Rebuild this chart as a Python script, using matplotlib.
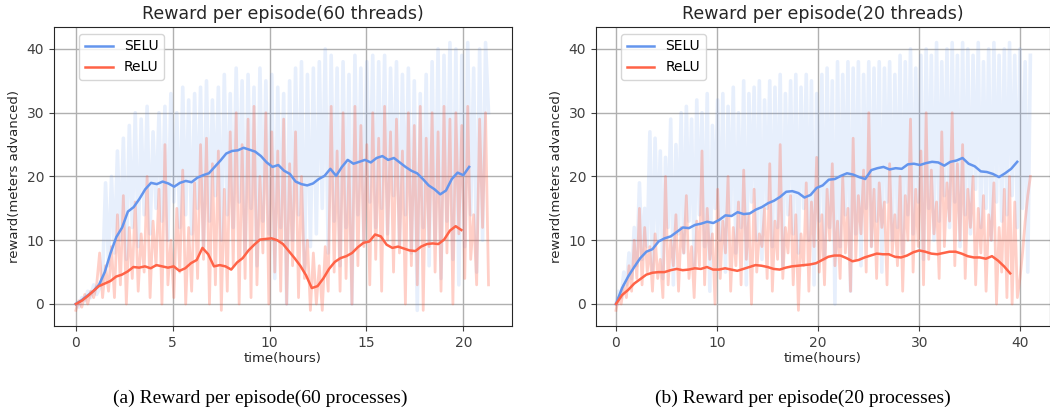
import numpy as np
import matplotlib
matplotlib.use("Agg")
import matplotlib.pyplot as plt

# ---- data ----
# left panel: 60 threads, raw episode rewards
selu60_raw = [0, -0.5, 1, 0.5, 2, 1, 3, 1.5, 2.5, 4,
              19, 6, 20, 8, 24, 10, 26, 7, 28, 12,
              30, 9, 29, 14, 31, 11, 27, 15, 30, 13,
              31, 10, 33, 16, 30, 12, 34, 14, 32, 11,
              33, 15, 34, 9, 35, 13, 32, 17, 34, 10,
              36, 14, 33, 12, 37, 16, 35, 8, 36, 15,
              34, 6, 37, 13, 35, 11, 36, 4, 34, 12,
              33, 0, 35, 10, 37, 14, 38, 5, 36, 9,
              37, 11, 38, 15, 40, 8, 39, 13, 37, 6,
              38, 12, 36, 0, 39, 14, 37, 10, 38, 16,
              39, 12, 38, 15, 39, 11, 37, 17, 38, 9,
              36, 14, 37, 8, 35, -1, 33, 12, 36, 6,
              38, 10, 40, 4, 39, 13, 41, 7, 40, 3,
              39, 9, 41, 14, 37, 5, 40, 10, 41, 30]
relu60_raw = [-1, 0.5, -0.5, 1.5, 0, 2, 1, 3, 8, 1,
              6, 2, 9, 1, 14, 3, 17, 0, 12, 4,
              16, 2, 11, 5, 20, 1, 13, 6, 18, 0,
              25, 3, 10, 1, 15, 5, 21, 0, 12, 2,
              19, 4, 25, 7, 26, 0, 22, 3, 24, -1,
              18, 2, 27, 6, 30, 0, 25, 4, 29, 1,
              31, 3, 20, 8, 30, 0, 27, 5, 24, 2,
              29, 0, 22, 6, 27, 1, 20, 4, 10, -1,
              8, 0, 6, -1, 9, 2, 31, 5, 24, 2,
              30, 4, 22, 0, 31, 6, 28, 9, 25, 3,
              30, 7, 26, 2, 31, 10, 27, 5, 29, 8,
              24, 0, 30, 6, 28, 3, 31, -1, 26, 9,
              30, 5, 27, 2, 31, 8, 29, 0, 30, 11,
              28, 4, 31, 7, 14, 3, 29, 12, 30, 3]

# left panel smoothed curves (evenly spaced in time)
selu60_avg = [0, 0.6, 1.3, 2, 3, 5, 8, 10.5, 12, 14.5,
              15.2, 16.5, 18, 19, 18.8, 19.2, 18.9, 18.4, 19, 19.3,
              19.1, 19.8, 20.2, 20.5, 21.5, 22.5, 23.6, 24, 24.1, 24.5,
              24.2, 23.9, 23.2, 22.2, 21.5, 21.8, 20.9, 20.4, 19.2, 18.8,
              18.6, 18.9, 19.6, 20.1, 21.2, 20.1, 21.5, 22.6, 22, 22.3,
              22.6, 22.2, 22.9, 23.2, 22.6, 22.9, 22.2, 21.5, 20.9, 20.5,
              19.6, 18.6, 18, 17.2, 17.8, 19.6, 20.6, 20.2, 21.5]
relu60_avg = [0, 0.5, 1.2, 2, 2.8, 3.2, 3.6, 4.3, 4.6, 5.1,
              5.8, 5.7, 5.9, 5.6, 6.1, 5.9, 5.7, 5.9, 5.2, 5.6,
              6.4, 6.9, 8.8, 7.8, 5.9, 6.1, 5.9, 5.4, 6.5, 7.2,
              8.4, 9.3, 10.1, 10.2, 10.3, 10, 9.4, 8.3, 7.2, 6,
              4.5, 2.5, 2.8, 4, 5.5, 6.6, 7.2, 7.5, 8, 8.9,
              9.6, 9.8, 10.9, 10.6, 9.3, 8.8, 9, 8.7, 8.4, 8.3,
              9, 9.4, 9.5, 9.4, 10.1, 11.5, 12.2, 11.6]

# right panel: 20 threads, raw episode rewards
selu20_raw = [0, 2, 1, 5, 3, 8, 4, 12, 6, 19,
              7, 15, 9, 27, 5, 26, 10, 24, 4, 23,
              12, 29, 3, 25, 11, 30, 8, 31, 13, 29,
              6, 32, 14, 30, 9, 33, 2, 28, 15, 32,
              10, 33, 5, 31, 14, 34, 8, 30, 12, 35,
              3, 33, 16, 34, 10, 35, 7, 32, 15, 35,
              9, 34, 12, 36, 6, 33, 14, 35, 11, 36,
              8, 34, 15, 36, 10, 35, 3, 33, 13, 36,
              7, 37, 12, 35, 0, 38, 9, 36, 14, 38,
              2, 37, 11, 38, 6, 36, 15, 38, 9, 37,
              13, 38, 5, 37, 16, 38, 10, 36, 12, 39,
              8, 38, 14, 40, 11, 37, 16, 39, 7, 40,
              15, 39, 10, 41, 13, 38, 17, 40, 12, 41,
              16, 39, 9, 41, 14, 40, 11, 39, 18, 41,
              12, 38, 15, 40, 10, 41, 16, 39, 13, 40,
              14, 41, 17, 39, 12, 40, 15, 38, 5, 39]
relu20_raw = [-1, 1, 0, 3, 1, 6, 2, 10, 4, 15,
              3, 12, 5, 9, 2, 11, 4, 7, 1, 20,
              3, 10, 6, 14, 2, 12, 8, 17, 4, 9,
              1, 13, 6, 24, 3, 15, 7, 11, 0, 18,
              4, 13, 8, 20, 2, 12, 6, 16, 3, 21,
              7, 14, 0, 18, 5, 11, 9, 15, 4, 22,
              2, 13, 7, 25, 4, 12, 8, 17, 3, 14,
              -1, 11, 6, 19, 2, 16, 9, 23, 5, 14,
              3, 18, 10, 22, 6, 13, 4, 20, 8, 15,
              2, 26, 7, 17, 11, 21, 5, 30, 9, 18,
              4, 19, 12, 16, 3, 22, 8, 14, 6, 20,
              2, 17, 10, 29, 5, 18, 9, 24, 3, 30,
              7, 21, 11, 16, 4, 27, 9, 19, 13, 30,
              6, 22, 10, 25, 4, 18, 12, 20, 3, 15,
              8, 17, 2, 14, 10, 19, 0, 12, 5, 18,
              1, 20, 0, 16, 1, 4, 8, 13, 17, 20]

# right panel smoothed curves (evenly spaced in time)
selu20_avg = [0, 2.5, 4.3, 5.8, 7.2, 8.2, 8.6, 9.8, 10.3, 10.6,
              11.3, 12, 11.9, 12.4, 12.6, 12.9, 12.7, 13.2, 13.9, 13.8,
              14.4, 14.1, 14.2, 14.8, 15.2, 15.8, 16.2, 16.8, 17.6, 17.7,
              17.4, 16.7, 17.1, 18.2, 18.6, 19.5, 19.6, 20.1, 20.5, 20.3,
              19.9, 19.6, 21, 21.3, 21.5, 21.1, 21.3, 21.2, 21.9, 22,
              21.8, 22.1, 22.3, 22.2, 21.7, 22.3, 22.5, 22.9, 22, 21.6,
              20.8, 20.7, 20.4, 19.9, 20.5, 21.2, 22.3]
relu20_avg = [0, 1.4, 2.2, 3.2, 3.9, 4.6, 4.9, 5, 5, 5.3,
              5.5, 5.3, 5.4, 5.6, 5.5, 5.8, 5.4, 5.4, 5.6, 5.4,
              5.2, 5.5, 5.8, 6.1, 6, 5.8, 5.5, 5.4, 5.7, 5.9,
              6, 6.1, 6.2, 6.4, 6.9, 7.4, 7.6, 7.6, 7.2, 6.7,
              6.9, 7.3, 7.6, 7.9, 7.8, 7.8, 7.4, 7.3, 7.6, 8.1,
              8.4, 8.2, 7.9, 7.8, 8, 8.2, 8.2, 7.9, 7.5, 7.3,
              7.3, 7.1, 7.5, 6.8, 5.9, 4.8]

blue = "#6495ED"
red = "#FF6347"

fig = plt.figure(figsize=(10.5, 4.13), dpi=100)
ax1 = fig.add_axes([0.0514, 0.2107, 0.436, 0.724])
ax2 = fig.add_axes([0.5676, 0.2107, 0.432, 0.724])


def draw(ax, raw_end, s_end, r_end, s_raw, r_raw, s_avg, r_avg, title, xt):
    ax.plot(np.linspace(0, raw_end, len(s_raw)), s_raw, color=blue, alpha=0.15, lw=2.6)
    ax.plot(np.linspace(0, raw_end, len(r_raw)), r_raw, color=red, alpha=0.3, lw=2.0)
    ax.plot(np.linspace(0, s_end, len(s_avg)), s_avg, color=blue, lw=1.8, label="SELU")
    ax.plot(np.linspace(0, r_end, len(r_avg)), r_avg, color=red, lw=1.8, label="ReLU")
    ax.set_title(title, fontsize=12.5, color="#262626")
    ax.set_xlabel("time(hours)", fontsize=9.5, color="#262626", labelpad=2)
    ax.set_ylabel("reward(meters advanced)", fontsize=9.5, color="#262626", labelpad=4)
    ax.set_xticks(xt)
    ax.set_yticks([0, 10, 20, 30, 40])
    ax.set_ylim(-3.45, 43.45)
    ax.grid(True, color="#b0b0b0", lw=1)
    ax.set_axisbelow(True)
    ax.tick_params(labelsize=10, colors="#404040", length=3.5)
    for sp in ax.spines.values():
        sp.set_color("#262626")
    ax.legend(loc="upper left", bbox_to_anchor=(0.04, 1.0), fontsize=10)


draw(ax1, 21.3, 20.3, 19.9, selu60_raw, relu60_raw, selu60_avg, relu60_avg,
     "Reward per episode(60 threads)", [0, 5, 10, 15, 20])
ax1.set_xlim(-1.13, 22.5)
draw(ax2, 41.0, 39.7, 39.0, selu20_raw, relu20_raw, selu20_avg, relu20_avg,
     "Reward per episode(20 threads)", [0, 10, 20, 30, 40])
ax2.set_xlim(-1.98, 42.9)

fig.text(0.2476, 0.036, "(a) Reward per episode(60 processes)", ha="center", va="center",
         fontsize=14, family="Liberation Serif")
fig.text(0.765, 0.036, "(b) Reward per episode(20 processes)", ha="center", va="center",
         fontsize=14, family="Liberation Serif")

fig.savefig("out.png", dpi=100)
